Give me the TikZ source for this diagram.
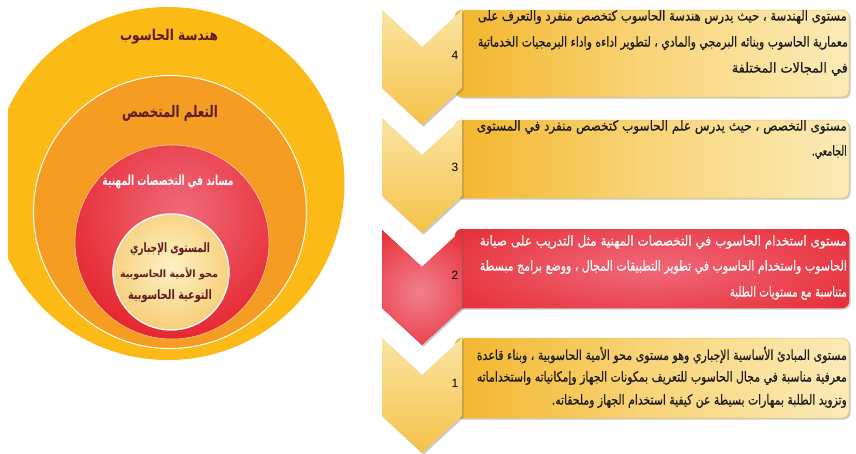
\documentclass[tikz,border=0pt]{standalone}
\usepackage{fontspec}
\usepackage{graphicx}
\usetikzlibrary{shadows}
\TeXXeTstate=1
\newfontfamily\arfont[Script=Arabic]{DejaVu Sans}
\newfontfamily\arbody[Script=Arabic,FakeBold=0.4]{DejaVu Sans}
\newfontfamily\numfont{Liberation Sans}
\definecolor{outerY}{HTML}{FBBA16}
\definecolor{midO}{HTML}{F59D22}
\definecolor{redC}{HTML}{E42128}
\definecolor{redL}{HTML}{F0697A}
\definecolor{innerE}{HTML}{F1AC33}
\definecolor{innerC}{HTML}{FDF2C4}
\definecolor{titleC}{HTML}{5E1B1E}
\definecolor{boxL}{HTML}{F3B62C}
\definecolor{boxR}{HTML}{FCEBB8}
\definecolor{boxM}{HTML}{F9D57A}
\definecolor{chevT}{HTML}{FBE4A2}
\definecolor{chevB}{HTML}{F5C24A}
\definecolor{boxEdge}{HTML}{E9C46A}
\newsavebox\lbox
\newdimen\lwd
% Arabic line (already wrapped in \beginR..\endR) scaled horizontally to a target width (pt)
\newcommand\jline[2]{\sbox\lbox{\fontsize{10}{12}\arbody #2}%
  \lwd=\wd\lbox\pgfmathsetmacro\lratio{#1/\lwd}%
  \scalebox{\lratio}[1.38]{\usebox\lbox}}
\newcommand\ctitle[3]{\resizebox*{#1pt}{#2pt}{\arfont\bfseries #3}}
\tikzset{
  shadowed/.style={drop shadow={shadow xshift=1.6pt,shadow yshift=-1.6pt,opacity=0.35,fill=black!60}},
  ybox/.style={rounded corners=7pt,left color=boxL,right color=boxR,middle color=boxM,draw=boxEdge,line width=0.5pt,shadowed},
  ychev/.style={top color=chevT,bottom color=chevB,shadowed},
  txt/.style={anchor=east,inner sep=0pt,text=black!90},
  wtxt/.style={anchor=east,inner sep=0pt,text=white},
  num/.style={inner sep=0pt,font=\numfont\fontsize{12}{14}\selectfont},
  title/.style={inner sep=0pt,text=titleC},
}
\newcommand\chevpath[1]{(382,#1) -- (422,#1+37) -- (462,#1) -- (462,#1+78) -- (422,#1+115) -- (382,#1+78) -- cycle}
\begin{document}
\begin{tikzpicture}[x=1pt,y=-1pt]
\useasboundingbox (0,0) rectangle (856,453);
\fill[white] (0,0) rectangle (856,453);
% ---------- circles ----------
\begin{scope}
  \clip (8,0) rectangle (856,453);
  \fill[outerY] (168,183.5) circle (176.5pt);
\end{scope}
\fill[midO,draw=white,line width=1pt] (170,212) circle (136.5pt);
\begin{scope}
  \clip (172,242) circle (97pt);
  \fill[redC] (172,242) circle (97pt);
  \shade[inner color=redL,outer color=redC] (182,212) circle (140pt);
\end{scope}
\draw[white!60!orange,line width=0.6pt] (172,242) circle (97pt);
\begin{scope}
  \clip (171,272) circle (58pt);
  \shade[inner color=innerC,outer color=innerE] (171,266) circle (125pt);
\end{scope}
\draw[white,line width=1.3pt] (171,272) circle (58pt);
% circle titles
\node[title] (h1) at (169,37) {\ctitle{98}{15}{\beginR هندسة الحاسوب\endR}};
\node[title] (h2) at (170,113) {\ctitle{96}{16}{\beginR التعلم المتخصص\endR}};
\node[title,text=white] (h3) at (168,182) {\ctitle{131}{14}{\beginR مساند في التخصصات المهنية\endR}};
\node[title] (h4) at (170,249) {\ctitle{80}{13}{\beginR المستوى الإجباري\endR}};
\node[title] (h5) at (169,274) {\ctitle{98}{12}{\beginR محو الأمية الحاسوبية\endR}};
\node[title] (h6) at (170,296) {\ctitle{84}{13}{\beginR التوعية الحاسوبية\endR}};
% ---------- level 4 ----------
\shade[ybox] (455,10) rectangle (849,97);
\shade[ychev] \chevpath{10};
% ---------- level 3 ----------
\shade[ybox] (455,120) rectangle (849,198);
\shade[ychev] \chevpath{118};
% ---------- level 2 ----------
\fill[redC,rounded corners=7pt,shadowed] (455,229) rectangle (849,308);
\begin{scope}
  \clip[rounded corners=7pt] (455,229) rectangle (849,308);
  \shade[inner color=redL,outer color=redC] (650,268) ellipse (300pt and 80pt);
\end{scope}
\fill[redC,shadowed] \chevpath{230};
\begin{scope}
  \clip \chevpath{230};
  \shade[inner color=redL!85!white,outer color=redC] (420,292) circle (85pt);
\end{scope}
% ---------- level 1 ----------
\shade[ybox] (455,338) rectangle (849,418);
\shade[ychev] \chevpath{338};
% ---------- numbers ----------
\node[num] (n4) at (455,55) {4};
\node[num] (n3) at (455,167) {3};
\node[num] (n2) at (455,275) {2};
\node[num] (n1) at (455,383) {1};
% ---------- texts ----------
\node[txt] (a1) at (847,17) {\jline{369}{\beginR مستوى الهندسة ، حيث يدرس هندسة الحاسوب كتخصص منفرد والتعرف على\endR}};
\node[txt] (a2) at (848,43) {\jline{370}{\beginR معمارية الحاسوب وبنائه البرمجي والمادي ، لتطوير اداءه واداء البرمجيات الخدماتية\endR}};
\node[txt] (a3) at (848,69) {\jline{116}{\beginR في المجالات المختلفة\endR}};
\node[txt] (b1) at (847,127) {\jline{370}{\beginR مستوى التخصص ، حيث يدرس علم الحاسوب كتخصص منفرد في المستوى\endR}};
\node[txt] (b2) at (847,152) {\jline{35}{\beginR الجامعي.\endR}};
\node[wtxt] (c1) at (847,242) {\jline{367}{\beginR مستوى استخدام الحاسوب في التخصصات المهنية  مثل التدريب على صيانة\endR}};
\node[wtxt] (c2) at (847,267) {\jline{367}{\beginR الحاسوب واستخدام الحاسوب في تطوير التطبيقات المجال ، ووضع برامج مبسطة\endR}};
\node[wtxt] (c3) at (847,293) {\jline{117}{\beginR متناسبة مع مستويات الطلبة\endR}};
\node[txt] (d1) at (847,355) {\jline{370}{\beginR مستوى المبادئ الأساسية الإجباري وهو مستوى محو الأمية الحاسوبية ، وبناء قاعدة\endR}};
\node[txt] (d2) at (847,378) {\jline{370}{\beginR معرفية مناسبة في مجال الحاسوب للتعريف بمكونات الجهاز وإمكانياته واستخداماته\endR}};
\node[txt] (d3) at (847,401) {\jline{295}{\beginR وتزويد الطلبة بمهارات بسيطة عن كيفية استخدام الجهاز وملحقاته.\endR}};
\end{tikzpicture}
\end{document}
